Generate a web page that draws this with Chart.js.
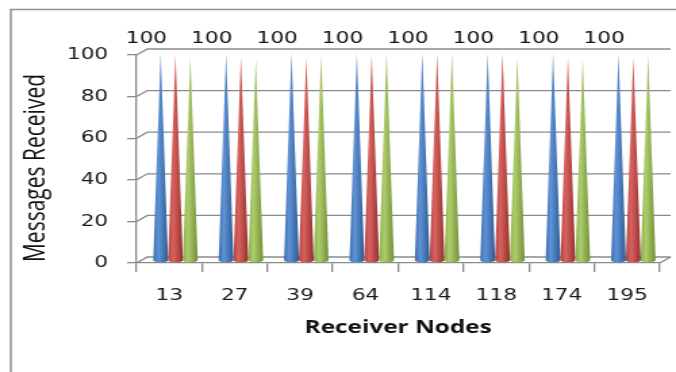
<!DOCTYPE html>
<html>
<head>
<meta charset="utf-8">
<script src="https://cdn.jsdelivr.net/npm/chart.js@4.4.0/dist/chart.umd.min.js"></script>
<style>
  html, body { margin: 0; padding: 0; background: #fff; }
  canvas { display: block; }
</style>
</head>
<body>
<canvas id="coneChart" width="500" height="372" style="width:676px;height:372px"></canvas>
<script>
// data
var nodes = ["13", "27", "39", "64", "114", "118", "174", "195"];
var seriesBlue = [100, 100, 100, 100, 100, 100, 100, 100];
var seriesRed = [99, 98, 98, 99, 100, 100, 98, 98];
var seriesGreen = [98, 97, 99, 100, 100, 98, 97, 99];
var yTicks = [0, 20, 40, 60, 80, 100];
var yTitle = "Messages Received";

// fake 3d depth, in canvas px
var wallDx = 8, wallDy = -6;
var coneDx = 4.6, coneDy = -2;

function drawCone(c, p, cols) {
  var cx = p.x + coneDx;
  var base = p.base + coneDy;
  var top = p.y + coneDy;
  var half = p.width / 2;
  var g = c.createLinearGradient(cx - half, 0, cx + half, 0);
  g.addColorStop(0, cols[0]);
  g.addColorStop(0.35, cols[1]);
  g.addColorStop(1, cols[2]);
  c.fillStyle = g;
  c.beginPath();
  c.moveTo(cx - half, base);
  c.lineTo(cx, top);
  c.lineTo(cx + half, base);
  c.ellipse(cx, base, half, 2, 0, 0, Math.PI);
  c.closePath();
  c.fill();
}

var conePlugin = {
  id: "cones",
  beforeDraw: function (chart) {
    var c = chart.ctx;
    var a = chart.chartArea;
    c.save();
    c.fillStyle = "#fff";
    c.fillRect(0, 0, chart.width, chart.height);
    // outer frame
    c.strokeStyle = "#8f8f8f";
    c.lineWidth = 1.5;
    c.beginPath();
    c.moveTo(8, chart.height);
    c.lineTo(8, 9.5);
    c.lineTo(chart.width, 9.5);
    c.stroke();
    // y axis title, sits a bit low like the original
    c.translate(27, (a.top + a.bottom) / 2 + 9);
    c.rotate(-Math.PI / 2);
    c.fillStyle = "#111";
    c.font = "21px 'Open Sans'";
    c.textAlign = "center";
    c.textBaseline = "middle";
    c.fillText(yTitle, 0, 0);
    c.restore();
  },
  beforeDatasetsDraw: function (chart) {
    var c = chart.ctx;
    var a = chart.chartArea;
    var ys = chart.scales.y;
    c.save();
    c.strokeStyle = "#8a8a8a";
    c.lineWidth = 1.3;
    ys.ticks.forEach(function (t) {
      var py = ys.getPixelForValue(t.value);
      c.beginPath();
      c.moveTo(a.left, py);
      c.lineTo(a.left + wallDx, py + wallDy);
      c.lineTo(a.right + wallDx, py + wallDy);
      c.stroke();
    });
    c.beginPath();
    c.moveTo(a.right, a.bottom);
    c.lineTo(a.right + wallDx, a.bottom + wallDy);
    c.stroke();

    chart.data.datasets.forEach(function (ds, i) {
      chart.getDatasetMeta(i).data.forEach(function (bar) {
        drawCone(c, bar.getProps(["x", "y", "base", "width"], true), ds.coneColors);
      });
    });

    // value labels on the first series
    c.fillStyle = "#111";
    c.font = "16px 'DejaVu Sans'";
    c.textAlign = "center";
    c.textBaseline = "middle";
    var ds0 = chart.data.datasets[0];
    chart.getDatasetMeta(0).data.forEach(function (bar, j) {
      c.fillText(String(ds0.data[j]), bar.x - 6, ys.getPixelForValue(100) - 16);
    });
    c.restore();
    return false;
  }
};

var ctx = document.getElementById("coneChart");
var myChart = new Chart(ctx, {
  type: "bar",
  data: {
    labels: nodes,
    datasets: [
      { label: "Series1", data: seriesBlue, backgroundColor: "#4f81bd",
        coneColors: ["#3c6cab", "#5f93d6", "#2d5a94"] },
      { label: "Series2", data: seriesRed, backgroundColor: "#c0504d",
        coneColors: ["#b0423f", "#d9625f", "#93302e"] },
      { label: "Series3", data: seriesGreen, backgroundColor: "#9bbb59",
        coneColors: ["#8aab48", "#aecd6c", "#718f36"] }
    ]
  },
  options: {
    responsive: false,
    animation: false,
    categoryPercentage: 0.68,
    barPercentage: 1,
    layout: { padding: { top: 55, right: 12, bottom: 33, left: 0 } },
    plugins: { legend: { display: false }, tooltip: { enabled: false } },
    scales: {
      x: {
        offset: true,
        afterFit: function (s) { s.height = 76; },
        grid: { drawOnChartArea: false, offset: true, tickLength: 9, color: "#8a8a8a", lineWidth: 1.3 },
        border: { color: "#8a8a8a", width: 1.3 },
        ticks: { padding: 14, color: "#1a1a1a", maxRotation: 0, font: { family: "DejaVu Sans", size: 16 } },
        title: { display: true, text: "Receiver Nodes", color: "#111",
          font: { family: "Open Sans", size: 18, weight: "bold" }, padding: { top: 11, bottom: 0 } }
      },
      y: {
        min: 0,
        max: 100,
        afterBuildTicks: function (s) { s.ticks = yTicks.map(function (v) { return { value: v }; }); },
        afterFit: function (s) { s.width = 101; },
        grid: { drawOnChartArea: false, tickLength: 7, color: "#8a8a8a", lineWidth: 1.3 },
        border: { color: "#8a8a8a", width: 1.3 },
        ticks: { padding: 14, color: "#1a1a1a", font: { family: "DejaVu Sans", size: 16 } }
      }
    }
  },
  plugins: [conePlugin]
});
</script>
</body>
</html>
